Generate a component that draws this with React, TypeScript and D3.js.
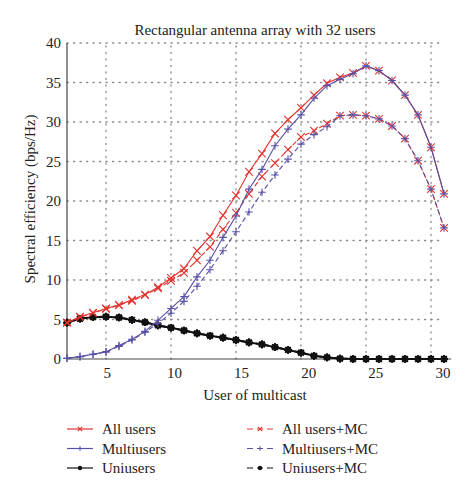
import React from "react";
import * as d3 from "d3";

const users = [2,3,4,5,6,7,8,9,10,11,12,13,14,15,16,17,18,19,20,21,22,23,24,25,26,27,28,29,30,31];
const allUsers = [4.6,5.35,5.85,6.4,6.85,7.5,8.15,9.1,10.25,11.45,13.7,15.5,18.2,20.7,23.7,26.0,28.55,30.3,31.8,33.4,34.9,35.65,36.2,37.1,36.5,35.25,33.4,30.9,26.8,20.9];
const multiUsers = [0.1,0.3,0.6,0.9,1.7,2.5,3.5,4.9,6.4,7.9,10.4,12.5,15.4,18.1,21.5,24.0,27.0,29.1,30.9,33.0,34.6,35.4,36.1,37.1,36.5,35.25,33.4,30.9,26.8,20.9];
const uniUsers = [4.6,5.1,5.3,5.35,5.25,4.95,4.65,4.25,3.95,3.6,3.25,2.95,2.7,2.4,2.1,1.85,1.5,1.15,0.8,0.4,0.2,0.05,0,0,0,0,0,0,0,0];
const allUsersMC = [4.6,5.3,5.8,6.35,6.8,7.35,8.1,8.95,9.9,10.9,12.5,14.2,16.4,18.5,20.9,23.1,24.8,26.5,28.1,28.9,29.8,30.8,30.9,30.8,30.4,29.5,27.9,25.1,21.5,16.6];
const multiUsersMC = [0.1,0.3,0.6,0.9,1.6,2.4,3.4,4.5,5.8,7.3,9.2,11.3,13.7,16.1,18.6,21.1,23.3,25.3,27.2,28.4,29.4,30.8,30.9,30.8,30.4,29.5,27.9,25.1,21.5,16.6];
const uniUsersMC = [4.6,5.1,5.3,5.35,5.25,4.95,4.65,4.25,3.95,3.6,3.25,2.95,2.7,2.4,2.1,1.85,1.5,1.15,0.8,0.4,0.2,0.05,0,0,0,0,0,0,0,0];

const xTicks = [5,10,15,20,25,30];
const yTicks = [0,5,10,15,20,25,30,35,40];
const title = "Rectangular antenna array with 32 users";
const xLabel = "User of multicast";
const yLabel = "Spectral efficiency (bps/Hz)";

type Marker = "x" | "+" | "*";
const RED = "#e5322d";
const BLUE = "#5650a6";
const BLACK = "#111";

const series = [
  { name: "Uniusers", values: uniUsers, color: BLACK, dash: "", marker: "*" as Marker, legendMarker: "dot", width: 2 },
  { name: "Uniusers+MC", values: uniUsersMC, color: BLACK, dash: "5,3", marker: "*" as Marker, legendMarker: "dot", width: 2 },
  { name: "All users", values: allUsers, color: RED, dash: "", marker: "x" as Marker, legendMarker: "x", width: 1.1 },
  { name: "All users+MC", values: allUsersMC, color: RED, dash: "5,3", marker: "x" as Marker, legendMarker: "x", width: 1.1 },
  { name: "Multiusers", values: multiUsers, color: BLUE, dash: "", marker: "+" as Marker, legendMarker: "+", width: 1.1 },
  { name: "Multiusers+MC", values: multiUsersMC, color: BLUE, dash: "5,3", marker: "+" as Marker, legendMarker: "+", width: 1.1 },
];

const legendOrder = [
  ["All users", "All users+MC"],
  ["Multiusers", "Multiusers+MC"],
  ["Uniusers", "Uniusers+MC"],
];

const FONT = "'Liberation Serif', 'DejaVu Serif', serif";

function markerPath(m: Marker, cx: number, cy: number, r: number): string {
  if (m === "x") {
    return `M${cx - r},${cy - r}L${cx + r},${cy + r}M${cx - r},${cy + r}L${cx + r},${cy - r}`;
  }
  if (m === "+") {
    return `M${cx - r},${cy}L${cx + r},${cy}M${cx},${cy - r}L${cx},${cy + r}`;
  }
  const d = r * 0.72;
  return `M${cx - r},${cy}L${cx + r},${cy}M${cx},${cy - r}L${cx},${cy + r}M${cx - d},${cy - d}L${cx + d},${cy + d}M${cx - d},${cy + d}L${cx + d},${cy - d}`;
}

export default function App() {
  const W = 474, H = 496;
  const left = 67, top = 43, bottom = 359;
  // plotting scale (data and grid)
  const x = d3.scaleLinear().domain([2, 31]).range([left, 444]);
  // tick-label scale as typeset in the published figure
  const xl = d3.scaleLinear().domain([2, 30]).range([left, 443]);
  const y = d3.scaleLinear().domain([0, 40]).range([bottom, top]);
  const gridRight = x(30.65);
  const axisRight = x(31.55);

  const line = d3.line<number>()
    .x((_, i) => x(users[i]))
    .y((d) => y(d));

  const lookup = (n: string) => series.find((s) => s.name === n)!;

  return (
    <svg width={W} height={H} style={{ position: "absolute", left: 0, top: 0, background: "#fff" }}>
      <rect x={0} y={0} width={W} height={H} fill="#fff" />
      {yTicks.filter((t) => t > 0).map((t) => (
        <line key={"gy" + t} x1={left} x2={gridRight} y1={y(t)} y2={y(t)}
          stroke="#8a8a8a" strokeWidth={1.3} strokeDasharray="1.2,5.3" strokeLinecap="round" />
      ))}
      {xTicks.map((t) => (
        <line key={"gx" + t} x1={x(t)} x2={x(t)} y1={bottom} y2={top}
          stroke="#8a8a8a" strokeWidth={1.3} strokeDasharray="1.2,5.3" strokeLinecap="round" />
      ))}
      <line x1={left} x2={left} y1={top} y2={bottom} stroke="#444" strokeWidth={1.2} />
      <line x1={left} x2={axisRight} y1={bottom} y2={bottom} stroke="#444" strokeWidth={1.2} />
      {yTicks.map((t) => (
        <text key={"ty" + t} x={left - 6} y={y(t)} dy="0.35em" textAnchor="end"
          fontFamily={FONT} fontSize={15} fill="#222">{t}</text>
      ))}
      {xTicks.map((t) => (
        <text key={"tx" + t} x={xl(t)} y={bottom + 19} textAnchor="middle"
          fontFamily={FONT} fontSize={15} fill="#222">{t}</text>
      ))}
      <text x={255} y={35} textAnchor="middle" fontFamily={FONT} fontSize={15} fill="#222">{title}</text>
      <text x={255} y={400} textAnchor="middle" fontFamily={FONT} fontSize={15} fill="#222">{xLabel}</text>
      <text transform={`translate(35,${(top + bottom) / 2 - 2}) rotate(-90)`} textAnchor="middle"
        fontFamily={FONT} fontSize={15} fill="#222">{yLabel}</text>
      {series.map((s) => (
        <g key={s.name}>
          <path d={line(s.values) || ""} fill="none" stroke={s.color} strokeWidth={s.width}
            strokeDasharray={s.dash || undefined} />
          <path d={s.values.map((v, i) => markerPath(s.marker, x(users[i]), y(v), s.marker === "*" ? 3.8 : 3.8)).join("")}
            fill="none" stroke={s.color} strokeWidth={s.marker === "*" ? 2 : 1.1} />
        </g>
      ))}
      {legendOrder.map((row, ri) => row.map((name, ci) => {
        const s = lookup(name);
        const ly = 429 + ri * 19.5;
        const lx = ci === 0 ? 67 : 247;
        const cx = lx + 13;
        return (
          <g key={name}>
            <line x1={lx} x2={lx + 26} y1={ly} y2={ly} stroke={s.color} strokeWidth={1.2}
              strokeDasharray={s.dash ? "6,4" : undefined} />
            {s.legendMarker === "dot" ? (
              <circle cx={cx} cy={ly} r={2.2} fill={s.color} />
            ) : (
              <path d={markerPath(s.legendMarker as Marker, cx, ly, 2.2)} stroke={s.color} strokeWidth={1.1} fill="none" />
            )}
            <text x={lx + 35} y={ly} dy="0.35em" fontFamily={FONT} fontSize={15} fill="#222">{name}</text>
          </g>
        );
      }))}
    </svg>
  );
}
